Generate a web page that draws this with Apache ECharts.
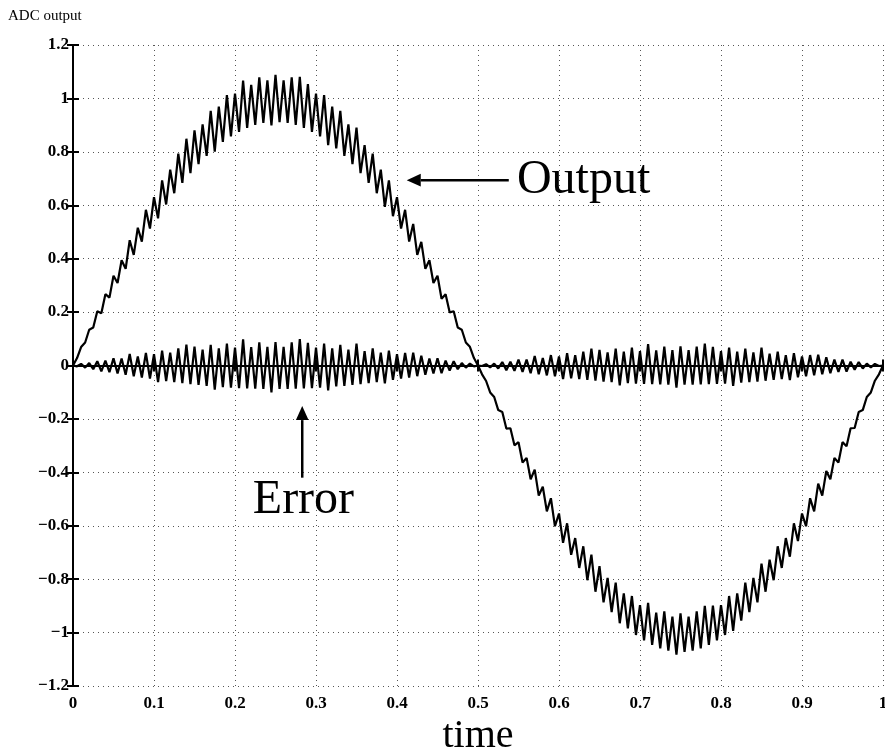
<!DOCTYPE html>
<html>
<head>
<meta charset="utf-8">
<script src="https://cdn.jsdelivr.net/npm/echarts@6/dist/echarts.min.js"></script>
<style>
html,body{margin:0;padding:0;background:#fff;overflow:hidden;}
#chart{position:absolute;left:0;top:0;width:885px;height:756px;}
</style>
</head>
<body>
<div id="chart"></div>
<script>
// ---- data ----
const timeStart = 0;
const timeStep = 0.005;   // sampling step of both curves
const xTicks = [0, 0.1, 0.2, 0.3, 0.4, 0.5, 0.6, 0.7, 0.8, 0.9, 1];
const yTicks = [-1.2, -1, -0.8, -0.6, -0.4, -0.2, 0, 0.2, 0.4, 0.6, 0.8, 1, 1.2];

const outputValues = [
 0, 0.028, 0.069, 0.086, 0.134, 0.142, 0.203, 0.196, 0.267, 0.254,
 0.336, 0.309, 0.394, 0.362, 0.469, 0.414, 0.516, 0.464, 0.583, 0.513,
 0.630, 0.551, 0.693, 0.603, 0.733, 0.645, 0.793, 0.684, 0.849, 0.720,
 0.880, 0.754, 0.903, 0.785, 0.953, 0.801, 0.969, 0.837, 1.012, 0.858,
 1.018, 0.875, 1.067, 0.890, 1.051, 0.901, 1.079, 0.908, 1.068, 0.899,
 1.088, 0.911, 1.068, 0.908, 1.079, 0.901, 1.081, 0.890, 1.054, 0.875,
 1.018, 0.858, 1.012, 0.825, 0.969, 0.813, 0.953, 0.785, 0.903, 0.754,
 0.891, 0.720, 0.825, 0.684, 0.793, 0.645, 0.733, 0.594, 0.693, 0.559,
 0.630, 0.513, 0.583, 0.464, 0.530, 0.414, 0.463, 0.362, 0.394, 0.309,
 0.336, 0.250, 0.267, 0.199, 0.203, 0.142, 0.134, 0.086, 0.070, 0.028,
 0,
 -0.033, -0.058, -0.101, -0.118, -0.167, -0.174, -0.236, -0.235, -0.299, -0.287,
 -0.363, -0.346, -0.426, -0.390, -0.487, -0.454, -0.546, -0.497, -0.602, -0.554,
 -0.664, -0.591, -0.709, -0.646, -0.758, -0.677, -0.804, -0.708, -0.847, -0.751,
 -0.887, -0.795, -0.923, -0.813, -0.965, -0.853, -0.984, -0.863, -1.009, -0.897,
 -1.029, -0.889, -1.046, -0.925, -1.059, -0.921, -1.068, -0.940, -1.083, -0.928,
 -1.072, -0.940, -1.068, -0.921, -1.059, -0.900, -1.046, -0.899, -1.029, -0.897,
 -1.009, -0.863, -0.994, -0.853, -0.955, -0.813, -0.923, -0.795, -0.887, -0.742,
 -0.847, -0.727, -0.804, -0.677, -0.758, -0.646, -0.716, -0.591, -0.657, -0.554,
 -0.602, -0.497, -0.546, -0.442, -0.487, -0.395, -0.426, -0.346, -0.363, -0.287,
 -0.302, -0.235, -0.234, -0.174, -0.167, -0.118, -0.101, -0.057, -0.033, 0
];

const errorValues = [
 0, -0.003, 0.006, -0.008, 0.009, -0.014, 0.016, -0.022, 0.018, -0.025,
 0.027, -0.030, 0.026, -0.035, 0.043, -0.040, 0.034, -0.045, 0.047, -0.049,
 0.042, -0.062, 0.056, -0.058, 0.048, -0.062, 0.064, -0.066, 0.078, -0.070,
 0.071, -0.073, 0.059, -0.076, 0.077, -0.090, 0.064, -0.081, 0.082, -0.083,
 0.067, -0.085, 0.098, -0.086, 0.069, -0.087, 0.087, -0.088, 0.070, -0.101,
 0.088, -0.088, 0.070, -0.088, 0.087, -0.087, 0.099, -0.086, 0.085, -0.085,
 0.067, -0.083, 0.082, -0.093, 0.064, -0.078, 0.077, -0.076, 0.059, -0.073,
 0.082, -0.070, 0.054, -0.066, 0.064, -0.062, 0.048, -0.067, 0.056, -0.054,
 0.042, -0.049, 0.047, -0.045, 0.048, -0.040, 0.037, -0.035, 0.026, -0.030,
 0.027, -0.029, 0.018, -0.019, 0.016, -0.014, 0.009, -0.008, 0.007, -0.003,
 0,
 -0.002, 0.005, -0.007, 0.007, -0.011, 0.013, -0.018, 0.014, -0.020, 0.022,
 -0.024, 0.022, -0.029, 0.036, -0.033, 0.028, -0.037, 0.039, -0.040, 0.034,
 -0.051, 0.046, -0.048, 0.039, -0.051, 0.052, -0.054, 0.063, -0.057, 0.058,
 -0.060, 0.049, -0.062, 0.063, -0.074, 0.052, -0.066, 0.067, -0.068, 0.054,
 -0.069, 0.080, -0.070, 0.057, -0.071, 0.071, -0.072, 0.058, -0.083, 0.072,
 -0.072, 0.058, -0.072, 0.071, -0.071, 0.082, -0.070, 0.070, -0.069, 0.054,
 -0.068, 0.067, -0.076, 0.052, -0.064, 0.063, -0.062, 0.049, -0.060, 0.067,
 -0.057, 0.044, -0.054, 0.052, -0.051, 0.039, -0.055, 0.046, -0.044, 0.034,
 -0.040, 0.039, -0.037, 0.040, -0.033, 0.031, -0.029, 0.022, -0.024, 0.022,
 -0.023, 0.014, -0.016, 0.013, -0.011, 0.007, -0.007, 0.006, -0.002, 0
];

const titleText = 'ADC output';
const xName = 'time';
const outputLabel = 'Output';
const errorLabel = 'Error';
// annotation anchors in data coordinates
const outputArrow = { from: [0.538, 0.694], to: [0.412, 0.694] };
const outputLabelAt = [0.548, 0.694];
const errorArrow = { from: [0.283, -0.42], to: [0.283, -0.152] };
const errorLabelAt = [0.222, -0.505];

// ---- build ----
const serif = '"Liberation Serif", "Times New Roman", serif';
const toPairs = vals => vals.map((v, i) => [timeStart + i * timeStep, v]);

function fmt(v) {
  const r = Math.round(v * 10) / 10;
  if (r === 0) return '0';
  const s = Math.abs(r).toString();
  return (r < 0 ? '\u2212' : '') + s;
}

const chart = echarts.init(document.getElementById('chart'), null, { renderer: 'canvas', width: 885, height: 756 });
const axisLine = { show: true, lineStyle: { color: '#000', width: 2 } };
const tickStyle = { show: true, inside: true, length: 6, lineStyle: { color: '#000', width: 2 } };
const splitStyle = { show: true, lineStyle: { color: '#555', width: 1, type: [1, 4] } };
const labelFont = { fontFamily: serif, fontSize: 17, color: '#000', fontWeight: 'bold' };

chart.setOption({
  animation: false,
  backgroundColor: '#fff',
  grid: { left: 73, right: 2, top: 45, bottom: 70, containLabel: false, outerBoundsMode: 'none' },
  xAxis: [{
    type: 'value', min: xTicks[0], max: xTicks[xTicks.length - 1], interval: 0.1,
    position: 'bottom',
    name: xName, nameLocation: 'middle', nameGap: 26,
    nameTextStyle: { fontFamily: serif, fontSize: 40, color: '#000' },
    axisLine: axisLine, axisTick: tickStyle, splitLine: splitStyle,
    axisLabel: Object.assign({ show: true, formatter: fmt, margin: 9, showMaxLabel: true, showMinLabel: true, hideOverlap: false }, labelFont)
  }, {
    type: 'value', min: xTicks[0], max: xTicks[xTicks.length - 1], interval: 0.1,
    position: 'top',
    axisLine: axisLine, axisTick: tickStyle, splitLine: { show: false }, axisLabel: { show: false }
  }],
  yAxis: [{
    type: 'value', min: yTicks[0], max: yTicks[yTicks.length - 1], interval: 0.2,
    position: 'left',
    axisLine: axisLine, axisTick: tickStyle, splitLine: splitStyle,
    axisLabel: Object.assign({ show: true, formatter: fmt, margin: 4, showMaxLabel: true, showMinLabel: true }, labelFont)
  }, {
    type: 'value', min: yTicks[0], max: yTicks[yTicks.length - 1], interval: 0.2,
    position: 'right',
    axisLine: axisLine, axisTick: tickStyle, splitLine: { show: false }, axisLabel: { show: false }
  }],
  series: [{
    name: 'Output', type: 'line', xAxisIndex: 0, yAxisIndex: 0,
    data: toPairs(outputValues), showSymbol: false, symbol: 'none',
    lineStyle: { color: '#000', width: 2.2 }, z: 3
  }, {
    name: 'Error', type: 'line', xAxisIndex: 0, yAxisIndex: 0,
    data: toPairs(errorValues), showSymbol: false, symbol: 'none',
    lineStyle: { color: '#000', width: 2.2 }, z: 3
  }]
});

function px(p) { return chart.convertToPixel({ gridIndex: 0 }, p); }
function arrow(from, to, head) {
  const a = px(from), b = px(to);
  const dx = b[0] - a[0], dy = b[1] - a[1];
  const len = Math.sqrt(dx * dx + dy * dy);
  const ux = dx / len, uy = dy / len;
  const bx = b[0] - ux * head, by = b[1] - uy * head;
  const hw = head * 0.45;
  return [{
    type: 'line', z: 10,
    shape: { x1: a[0], y1: a[1], x2: bx, y2: by },
    style: { stroke: '#000', lineWidth: 2.5 }
  }, {
    type: 'polygon', z: 10,
    shape: { points: [[b[0], b[1]], [bx - uy * hw, by + ux * hw], [bx + uy * hw, by - ux * hw]] },
    style: { fill: '#000' }
  }];
}

const oL = px(outputLabelAt), eL = px(errorLabelAt);
chart.setOption({
  graphic: [
    { type: 'text', left: 8, top: 9, z: 10,
      style: { text: titleText, font: '15px ' + serif, fill: '#000' } },
    { type: 'text', x: oL[0], y: oL[1], z: 10,
      style: { text: outputLabel, font: '48px ' + serif, fill: '#000', textAlign: 'left', textVerticalAlign: 'middle' } },
    { type: 'text', x: eL[0], y: eL[1], z: 10,
      style: { text: errorLabel, font: '48px ' + serif, fill: '#000', textAlign: 'left', textVerticalAlign: 'middle' } }
  ].concat(arrow(outputArrow.from, outputArrow.to, 14), arrow(errorArrow.from, errorArrow.to, 14))
});
</script>
</body>
</html>
